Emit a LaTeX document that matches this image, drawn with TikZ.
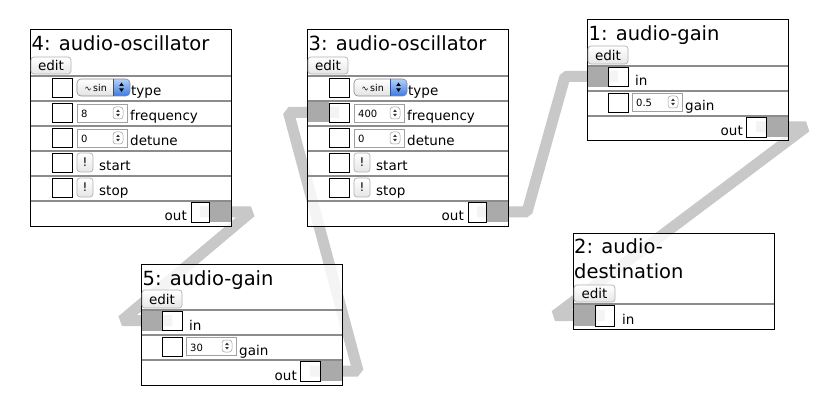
\documentclass[tikz,border=0pt]{standalone}
\usepackage{fontspec}
\setmainfont{DejaVu Sans}
\usetikzlibrary{calc}
\pgfdeclarelayer{bg}
\pgfsetlayers{bg,main}
\definecolor{wirec}{RGB}{200,200,200}
\definecolor{portg}{RGB}{170,170,170}
\definecolor{sepg}{RGB}{140,140,140}
\definecolor{btnb}{RGB}{178,178,178}
\definecolor{btnl}{RGB}{230,230,230}
\definecolor{selb}{RGB}{135,135,150}
\definecolor{blueA}{RGB}{180,208,248}
\definecolor{blueB}{RGB}{60,122,226}
\definecolor{numb}{RGB}{160,160,160}
\tikzset{
  nodebox/.style={draw=black, line width=1pt, fill=white, fill opacity=0.8, inner sep=0pt, outer sep=0pt, anchor=north west, minimum width=201pt},
  sepline/.style={draw=sepg, line width=1.5pt},
  portbox/.style={draw=black, line width=0.9pt, inner sep=0pt, outer sep=0pt, anchor=north west},
  ttl/.style={anchor=base west, inner sep=0pt, font=\fontsize{19.5}{19.5}\selectfont},
  lbl/.style={anchor=base west, inner sep=0pt, font=\fontsize{13.5}{13.5}\selectfont},
  lblr/.style={lbl, anchor=base east},
  val/.style={anchor=base west, inner sep=0pt, font=\fontsize{10}{10}\selectfont},
  btn/.style={draw=btnb, line width=0.7pt, rounded corners=3pt, top color=white, bottom color=btnl},
  wire/.style={draw=wirec, line width=11pt, line join=bevel},
}
\newcommand\mkEdit[5]{%
  \draw[btn] (#2,#3) rectangle ++(#4,#5);
  \node[lbl, anchor=base] (#1) at (#2+#4/2, #3+#5-3.5) {edit};
}
\newcommand\mkPort[5]{%
  \node[portbox, minimum width=#4pt, minimum height=#5pt] (#1) at (#2,#3) {};
}
\newcommand\mkSelect[3]{%
  \begin{scope}[shift={(#1,#2)}]
    \shade[top color=white, bottom color=gray!22, rounded corners=4pt] (0,0) rectangle (53,17);
    \begin{scope}
      \clip[rounded corners=4pt] (0,0) rectangle (53,17);
      \shade[top color=blueA, bottom color=blueB] (36,0) rectangle (53,17);
    \end{scope}
    \draw[selb, line width=0.6pt, rounded corners=4pt] (0,0) rectangle (53,17);
    \draw[line width=0.4pt, blueB!70!black] (36,0) -- (36,17);
    \draw[line width=0.5pt] plot[domain=0:1, samples=13, smooth] ({8.5+5*\x},{9.5-1.6*sin(360*\x)});
    \node[val, font=\fontsize{9.5}{9.5}\selectfont] (#3) at (16,12.5) {sin};
    \fill (42.2,7) -- (46.8,7) -- (44.5,3.5) -- cycle;
    \fill (42.2,9.5) -- (46.8,9.5) -- (44.5,13) -- cycle;
  \end{scope}
}
\newcommand\mkNum[4]{%
  \begin{scope}[shift={(#2,#3)}]
    \draw[numb, line width=0.6pt, fill=white] (0,0) rectangle (50,18);
    \draw[gray!75, line width=0.5pt, rounded corners=3pt] (36,3) rectangle (46,15);
    \fill[black!80] (39.2,8) -- (42.8,8) -- (41,5.5) -- cycle;
    \fill[black!80] (39.2,10) -- (42.8,10) -- (41,12.5) -- cycle;
    \node[val] (#1) at (4,14) {#4};
  \end{scope}
}
\newcommand\mkBang[3]{%
  \draw[btn] (#2,#3) rectangle ++(16,19);
  \node[lbl, anchor=base, font=\fontsize{12}{12}\selectfont] (#1) at (#2+8,#3+13.5) {!};
}
\begin{document}
\begin{tikzpicture}[x=1pt,y=-1pt]
\useasboundingbox (0,0) rectangle (836,409);

% ---------- node 4 ----------
\begin{scope}[shift={(30,30)}]
  \node[nodebox, minimum height=196pt] (n4) at (0,0) {};
  \node[ttl] (n4t) at (1.5,21) {4: audio-oscillator};
  \mkEdit{n4e}{1}{27}{40}{17}
  \foreach \yy in {46,71,96,121,146,171} \draw[sepline] (0.5,\yy) -- (200.5,\yy);
  \mkPort{n4p1}{22}{48}{20}{19}
  \mkSelect{47}{49}{n4s}
  \node[lbl] (n4l1) at (101,66) {type};
  \mkPort{n4p2}{22}{73}{20}{19}
  \mkNum{n4v2}{47}{74}{8}
  \node[lbl] (n4l2) at (100,91) {frequency};
  \mkPort{n4p3}{22}{98}{20}{19}
  \mkNum{n4v3}{47}{99}{0}
  \node[lbl] (n4l3) at (100,116) {detune};
  \mkPort{n4p4}{22}{123}{20}{19}
  \mkBang{n4b4}{47}{123}
  \node[lbl] (n4l4) at (69,141) {start};
  \mkPort{n4p5}{22}{148}{20}{19}
  \mkBang{n4b5}{47}{148}
  \node[lbl] (n4l5) at (69,166) {stop};
  \fill[portg] (179,172) rectangle (200.5,192);
  \mkPort{n4out}{161}{172}{18}{20}
  \node[lblr] (n4l6) at (157,191) {out};
\end{scope}

% ---------- node 3 ----------
\begin{scope}[shift={(307,30)}]
  \node[nodebox, minimum height=196pt] (n3) at (0,0) {};
  \node[ttl] (n3t) at (1.5,21) {3: audio-oscillator};
  \mkEdit{n3e}{1}{27}{40}{17}
  \foreach \yy in {46,71,96,121,146,171} \draw[sepline] (0.5,\yy) -- (200.5,\yy);
  \mkPort{n3p1}{22}{48}{20}{19}
  \mkSelect{47}{49}{n3s}
  \node[lbl] (n3l1) at (101,66) {type};
  \fill[portg] (0.5,72) rectangle (22,92);
  \mkPort{n3p2}{22}{73}{20}{19}
  \mkNum{n3v2}{47}{74}{400}
  \node[lbl] (n3l2) at (100,91) {frequency};
  \mkPort{n3p3}{22}{98}{20}{19}
  \mkNum{n3v3}{47}{99}{0}
  \node[lbl] (n3l3) at (100,116) {detune};
  \mkPort{n3p4}{22}{123}{20}{19}
  \mkBang{n3b4}{47}{123}
  \node[lbl] (n3l4) at (69,141) {start};
  \mkPort{n3p5}{22}{148}{20}{19}
  \mkBang{n3b5}{47}{148}
  \node[lbl] (n3l5) at (69,166) {stop};
  \fill[portg] (179,172) rectangle (200.5,192);
  \mkPort{n3out}{161}{172}{18}{20}
  \node[lblr] (n3l6) at (157,191) {out};
\end{scope}

% ---------- node 1 ----------
\begin{scope}[shift={(587,20)}]
  \node[nodebox, minimum height=121pt] (n1) at (0,0) {};
  \node[ttl] (n1t) at (1.5,21) {1: audio-gain};
  \mkEdit{n1e}{1}{26}{40}{18}
  \foreach \yy in {46,71,96} \draw[sepline] (0.5,\yy) -- (200.5,\yy);
  \fill[portg] (0.5,47) rectangle (21,67);
  \mkPort{n1in}{21}{47}{20}{19}
  \node[lbl] (n1l1) at (48,66) {in};
  \mkPort{n1p2}{21}{73}{20}{19}
  \mkNum{n1v2}{45}{73}{0.5}
  \node[lbl] (n1l2) at (98,91) {gain};
  \fill[portg] (179,97) rectangle (200.5,117);
  \mkPort{n1out}{159}{97}{20}{20}
  \node[lblr] (n1l3) at (156,116) {out};
\end{scope}

% ---------- node 5 ----------
\begin{scope}[shift={(141,264)}]
  \node[nodebox, minimum height=121pt] (n5) at (0,0) {};
  \node[ttl] (n5t) at (1.5,21) {5: audio-gain};
  \mkEdit{n5e}{1}{26}{40}{18}
  \foreach \yy in {46,71,96} \draw[sepline] (0.5,\yy) -- (200.5,\yy);
  \fill[portg] (0.5,47) rectangle (21,67);
  \mkPort{n5in}{21}{47}{20}{19}
  \node[lbl] (n5l1) at (48,66) {in};
  \mkPort{n5p2}{21}{73}{20}{19}
  \mkNum{n5v2}{45}{73}{30}
  \node[lbl] (n5l2) at (98,91) {gain};
  \fill[portg] (179,97) rectangle (200.5,117);
  \mkPort{n5out}{159}{97}{20}{20}
  \node[lblr] (n5l3) at (156,116) {out};
\end{scope}

% ---------- node 2 ----------
\begin{scope}[shift={(573,233)}]
  \node[nodebox, minimum height=96pt] (n2) at (0,0) {};
  \node[ttl] (n2t) at (1,20) {2: audio-};
  \node[ttl] (n2t2) at (1,45) {destination};
  \mkEdit{n2e}{1}{52}{41}{17}
  \draw[sepline] (0.5,71) -- (200.5,71);
  \fill[portg] (0.5,72) rectangle (22,93);
  \mkPort{n2in}{22}{72}{19}{21}
  \node[lbl] (n2l1) at (49,91.5) {in};
\end{scope}

% ---------- connectors ----------
\coordinate (k1) at ($(n4out.center)+(51,0)$);
\coordinate (k2) at (122,0 |- n5in.center);
\coordinate (k3) at ($(n3out.center)+(50,0)$);
\coordinate (k4) at (565,0 |- n1in.center);
\coordinate (k5) at ($(n1out.center)+(50,0)$);
\coordinate (k6) at (555,0 |- n2in.center);
\coordinate (k7) at ($(n5out.center)+(48,0)$);
\coordinate (k8) at (288.5,0 |- n3p2.center);
\begin{pgfonlayer}{bg}
  \fill[white] (0,0) rectangle (836,409);
  \draw[wire] (n4out.center) -- (k1) -- (k2) -- (n5in.center);
  \draw[wire] (n3out.center) -- (k3) -- (k4) -- (n1in.center);
  \draw[wire] (n1out.center) -- (k5) -- (k6) -- (n2in.center);
  \draw[wire] (n5out.center) -- (k7) -- (k8) -- (n3p2.center);
\end{pgfonlayer}
\end{tikzpicture}
\end{document}
